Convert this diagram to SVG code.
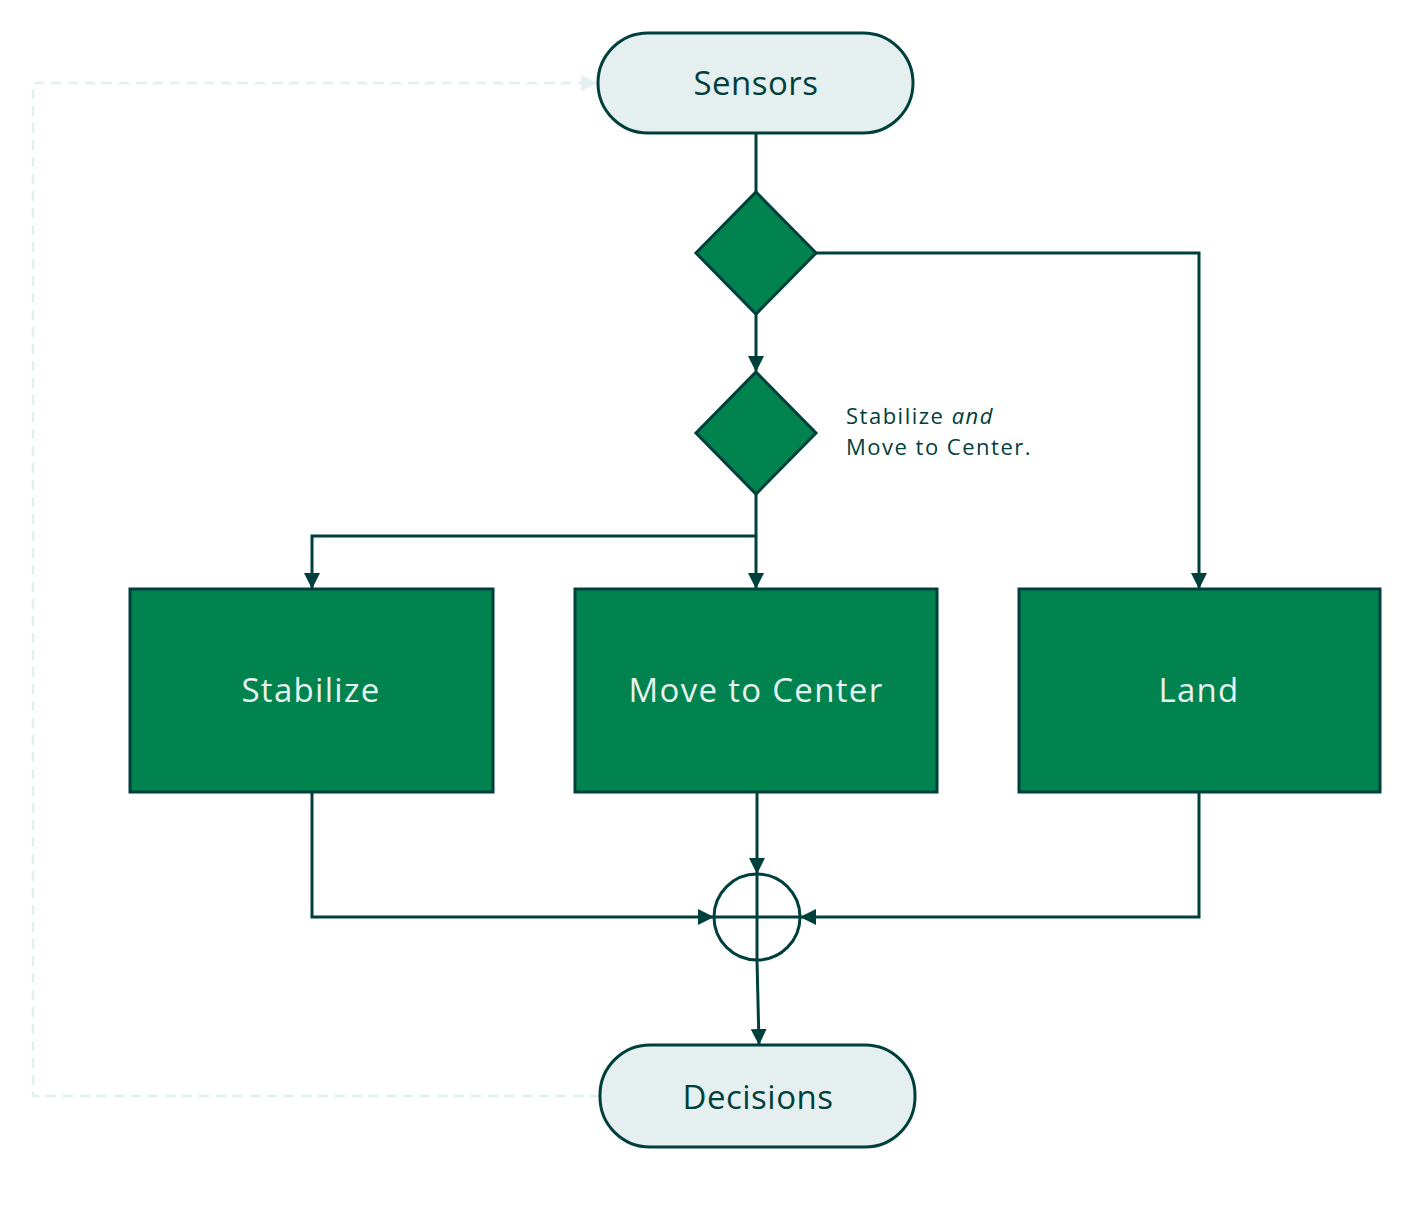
<svg xmlns="http://www.w3.org/2000/svg" width="1428" height="1206" viewBox="0 0 1428 1206">
<style>
.term{fill:#E6EFF0;stroke:#00403C;stroke-width:3}
.dec{fill:#00834F;stroke:#00403C;stroke-width:3}
.box{fill:#00834F;stroke:#00403C;stroke-width:3}
.conn{fill:none;stroke:#00403C;stroke-width:3}
.dash{fill:none;stroke:#E3EEEF;stroke-width:2.5;stroke-dasharray:10,7}
.t1{font-family:"Open Sans","Noto Sans",sans-serif;font-size:33px;letter-spacing:0.5px;fill:#00403C;text-anchor:middle}
.t2{font-family:"Open Sans","Noto Sans",sans-serif;font-size:33px;letter-spacing:1.3px;fill:#E8F2EE;text-anchor:middle}
.lbl{font-family:"Open Sans","Noto Sans",sans-serif;font-size:22px;letter-spacing:1.5px;fill:#00403C}
</style>
<defs>
<marker id="ah" markerWidth="16" markerHeight="16" refX="15" refY="8" orient="auto" markerUnits="userSpaceOnUse">
<path d="M0,0 L16,8 L0,16 Z" fill="#00403C"/>
</marker>
<marker id="ahl" markerWidth="16" markerHeight="16" refX="15" refY="8" orient="auto" markerUnits="userSpaceOnUse">
<path d="M0,0 L16,8 L0,16 Z" fill="#E3EEEF"/>
</marker>
</defs>
<g id="connectors">
<path class="dash" d="M600,1096 H33 V83 H596" marker-end="url(#ahl)"/>
<path class="conn" d="M756,133 V192"/>
<path class="conn" d="M756,314 V371" marker-end="url(#ah)"/>
<path class="conn" d="M816,253 H1199 V588" marker-end="url(#ah)"/>
<path class="conn" d="M756,494 V588" marker-end="url(#ah)"/>
<path class="conn" d="M756,536 H312 V588" marker-end="url(#ah)"/>
<path class="conn" d="M757,792 V873" marker-end="url(#ah)"/>
<path class="conn" d="M312,792 V917 H713" marker-end="url(#ah)"/>
<path class="conn" d="M1199,792 V917 H801" marker-end="url(#ah)"/>
<path class="conn" d="M757,960 L759,1044" marker-end="url(#ah)"/>
</g>
<g id="sensors">
<rect class="term" x="598" y="33" width="315" height="100" rx="50"/>
<text class="t1" x="756" y="95">Sensors</text>
</g>
<g id="decision1">
<polygon class="dec" points="756,192 816,253 756,314 696,253"/>
</g>
<g id="decision2">
<polygon class="dec" points="756,372 816,433 756,494 696,433"/>
<text class="lbl" x="846" y="424">Stabilize <tspan font-style="italic">and</tspan></text>
<text class="lbl" x="846" y="455">Move to Center.</text>
</g>
<g id="stabilize">
<rect class="box" x="130" y="589" width="363" height="203"/>
<text class="t2" x="311" y="702">Stabilize</text>
</g>
<g id="move">
<rect class="box" x="575" y="589" width="362" height="203"/>
<text class="t2" x="756" y="702">Move to Center</text>
</g>
<g id="land">
<rect class="box" x="1019" y="589" width="361" height="203"/>
<text class="t2" x="1199" y="702">Land</text>
</g>
<g id="sum">
<circle cx="757" cy="917" r="43" fill="#FFFFFF" stroke="#00403C" stroke-width="3"/>
<path class="conn" d="M714,917 H800 M757,874 V960"/>
</g>
<g id="decisions">
<rect class="term" x="600" y="1045" width="315" height="102" rx="50"/>
<text class="t1" x="758" y="1109">Decisions</text>
</g>
</svg>
